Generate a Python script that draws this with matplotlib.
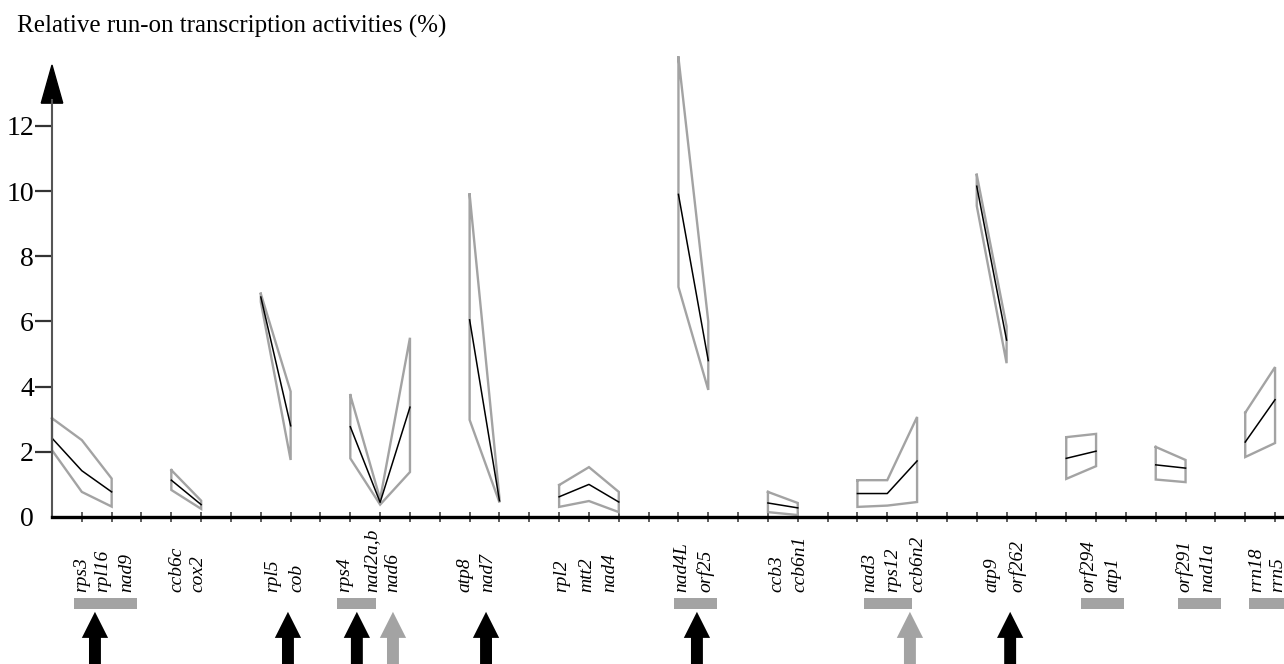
import matplotlib
matplotlib.use("Agg")
import matplotlib.pyplot as plt
from matplotlib.patches import Rectangle, FancyArrow

plt.rcParams["font.family"] = ["Liberation Serif", "DejaVu Serif"]

#  Data 
genes = ["rps3", "rpl16", "nad9", "ccb6c", "cox2", "rpl5", "cob",
         "rps4", "nad2a,b", "nad6", "atp8", "nad7", "rpl2", "mtt2", "nad4",
         "nad4L", "orf25", "ccb3", "ccb6n1", "nad3", "rps12", "ccb6n2",
         "atp9", "orf262", "orf294", "atp1", "orf291", "nad1a", "rrn18", "rrn5"]
gene_pos = [0, 1, 2, 4, 5, 7, 8, 10, 11, 12, 14, 15, 17, 18, 19,
            21, 22, 24, 25, 27, 28, 29, 31, 32, 34, 35, 37, 38, 40, 41]
group = [1, 1, 1, 2, 2, 3, 3, 4, 4, 4, 5, 5, 6, 6, 6,
         7, 7, 8, 8, 9, 9, 9, 10, 10, 11, 11, 12, 12, 13, 13]
mean = [2.42, 1.42, 0.77, 1.13, 0.38, 6.75, 2.80, 2.77, 0.45, 3.37,
        6.05, 0.50, 0.62, 1.00, 0.46, 9.90, 4.80, 0.43, 0.28, 0.72,
        0.72, 1.72, 10.15, 5.43, 1.80, 2.02, 1.60, 1.50, 2.30, 3.60]
upper = [3.03, 2.36, 1.18, 1.44, 0.50, 6.85, 3.85, 3.74, 0.55, 5.50,
         9.90, 0.58, 0.98, 1.53, 0.77, 14.10, 6.00, 0.77, 0.43, 1.13,
         1.13, 3.07, 10.50, 5.85, 2.45, 2.55, 2.15, 1.75, 3.20, 4.60]
lower = [2.05, 0.77, 0.32, 0.83, 0.25, 6.60, 1.75, 1.80, 0.38, 1.38,
         2.98, 0.45, 0.31, 0.49, 0.15, 7.06, 3.90, 0.15, 0.06, 0.31,
         0.35, 0.46, 9.55, 4.72, 1.17, 1.56, 1.15, 1.07, 1.84, 2.27]

# label positions along the axis (they sit a bit off the data points)
label_pos = [1.01, 1.71, 2.51, 4.19, 4.89, 7.41, 8.21, 9.82, 10.73, 11.43,
             13.85, 14.62, 17.10, 17.93, 18.71, 21.12, 21.89, 24.30, 25.08,
             27.42, 28.19, 29.03, 31.51, 32.35, 34.73, 35.57, 37.98, 38.75,
             40.40, 41.10]

# grey transcription-unit bars (start, end) and start-site arrows
unit_bars = [(0.74, 2.85), (9.55, 10.86), (20.85, 22.29), (27.22, 28.83),
             (34.50, 35.94), (37.74, 39.19), (40.13, 41.60)]
black_arrows = [1.44, 7.91, 10.22, 14.55, 21.62, 32.12]
grey_arrows = [11.43, 28.76]

GREY = "#a3a3a3"

#  Figure 
fig = plt.figure(figsize=(12.84, 6.64), dpi=100)
ax = fig.add_axes([52 / 1284, 147 / 664, 1 - 52 / 1284, 466 / 664])
ax.set_xlim(0, 41.3)
ax.set_ylim(0, 14.3)

# envelope polygons + mean lines per group
for g in sorted(set(group)):
    idx = [i for i, gg in enumerate(group) if gg == g]
    xs = [gene_pos[i] for i in idx]
    up = [upper[i] for i in idx]
    lo = [lower[i] for i in idx]
    mn = [mean[i] for i in idx]
    px = xs + xs[::-1] + [xs[0]]
    py = up + lo[::-1] + [up[0]]
    ax.plot(px, py, color=GREY, lw=1.7, solid_joinstyle="miter", clip_on=False)
    ax.plot(xs, mn, color="black", lw=1.1, clip_on=False)

# axes styling
for s in ["top", "right"]:
    ax.spines[s].set_visible(False)
ax.spines["bottom"].set_linewidth(2.4)
ax.spines["left"].set_color("#555555")
ax.spines["left"].set_linewidth(1.5)
ax.spines["left"].set_bounds(0, 12.8)

ax.set_xticks(range(1, 42))
ax.set_xticklabels([])
ax.tick_params(axis="x", direction="inout", length=7, width=1.1, color="#333333")
ax.set_yticks(range(0, 13, 2))
ax.set_yticklabels([str(v) for v in range(0, 13, 2)], fontsize=20)
ax.tick_params(axis="y", direction="out", length=12, width=1.6,
               color="#333333", pad=1)
ax.yaxis.get_major_ticks()[0].tick1line.set_visible(False)

# arrow head on y axis
ax.add_patch(FancyArrow(0, 12.7, 0, 1.17, width=0.0, head_width=0.72,
                        head_length=1.17, length_includes_head=True,
                        color="black", clip_on=False))

# gene labels
for name, x in zip(genes, label_pos):
    ax.text(x, -2.30, name, rotation=90, ha="center", va="bottom",
            fontsize=14, style="italic", clip_on=False)

# transcription unit bars
for x0, x1 in unit_bars:
    ax.add_patch(Rectangle((x0, -2.82), x1 - x0, 0.34, facecolor=GREY,
                           edgecolor="none", clip_on=False))

# start-site arrows
for xs_, col in [(black_arrows, "black"), (grey_arrows, GREY)]:
    for x in xs_:
        ax.add_patch(FancyArrow(x, -4.8, 0, 1.89, width=0.40, head_width=0.88,
                                head_length=0.80, length_includes_head=True,
                                facecolor=col, edgecolor="none", clip_on=False))

fig.text(17 / 1284, 1 - 33 / 664, "Relative run-on transcription activities (%)",
         fontsize=18, va="baseline", ha="left")

fig.savefig("out.png", dpi=100)
